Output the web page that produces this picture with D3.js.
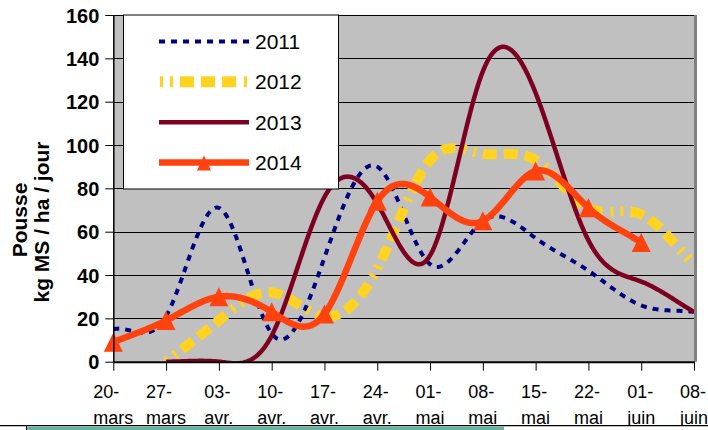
<!DOCTYPE html>
<html><head><meta charset="utf-8">
<script src="https://cdn.jsdelivr.net/npm/d3@7"></script>
<style>
html,body{margin:0;padding:0;background:#fff;}
svg{display:block;font-family:"Liberation Sans",Arial,sans-serif;}
</style></head>
<body><svg id="chart" width="708" height="430"></svg>
<script>
// ---- data ----
const categories = ["20-mars","27-mars","03-avr.","10-avr.","17-avr.","24-avr.","01-mai","08-mai","15-mai","22-mai","01-juin","08-juin"];
const seriesNames = ["2011","2012","2013","2014"];
const s2011 = [15, 21, 71, 13, 48, 90, 45, 65, 57, 42, 26, 23];
const s2012 = [null, 0, 19, 32, 21, 43, 93, 96, 93, 71, 68, 45];
const s2013 = [null, 0, 0, 12, 76, 73, 49, 134, 124, 56, 37, 23];
const s2014 = [9, 19, 30, 23, 22, 74, 76, 65, 88, 71, 55, null];
const yTicks = [0, 20, 40, 60, 80, 100, 120, 140, 160];
const yTitle = ["Pousse", "kg MS / ha / jour"];

// ---- styles ----
const styles = [
  {name:seriesNames[0], data:s2011, color:"#000080", width:4,   dash:"6,6", marker:false},
  {name:seriesNames[1], data:s2012, color:"#FFD320", width:10,  dash:"3,7,3,7,14,7,14,7,14,8", marker:false},
  {name:seriesNames[2], data:s2013, color:"#7E0021", width:4.5, dash:null, marker:false},
  {name:seriesNames[3], data:s2014, color:"#FF420E", width:6.5, dash:null, marker:true}
];

const svg = d3.select("#chart");
const L = 113.3, R = 694, T = 15, B = 361.7;
const x = d3.scalePoint().domain(d3.range(categories.length)).range([L, R]);
const xc = d3.scaleLinear().domain([0, categories.length - 1]).range([L, R]);
const y = d3.scaleLinear().domain([0, 160]).range([B, T]);

// cubic spline y(i) with end slopes clamped to the end chords (uniform spacing)
function splineSamples(pts, steps) {
  const n = pts.length - 1;
  if (n < 2) return pts;
  const v = pts.map(p => p[1]);
  const a = new Array(n + 1).fill(0), b = new Array(n + 1).fill(0), c = new Array(n + 1).fill(0), d = new Array(n + 1).fill(0);
  b[0] = 2; c[0] = 1; d[0] = 0;
  for (let i = 1; i < n; i++) { a[i] = 1; b[i] = 4; c[i] = 1; d[i] = 6 * (v[i+1] - 2 * v[i] + v[i-1]); }
  a[n] = 1; b[n] = 2; d[n] = 0;
  for (let i = 1; i <= n; i++) { const w = a[i] / b[i-1]; b[i] -= w * c[i-1]; d[i] -= w * d[i-1]; }
  const M = new Array(n + 1);
  M[n] = d[n] / b[n];
  for (let i = n - 1; i >= 0; i--) M[i] = (d[i] - c[i] * M[i+1]) / b[i];
  const out = [];
  for (let i = 0; i < n; i++) {
    for (let s = 0; s < steps; s++) {
      const tb = s / steps, ta = 1 - tb;
      const val = ta * v[i] + tb * v[i+1] + ((ta*ta*ta - ta) * M[i] + (tb*tb*tb - tb) * M[i+1]) / 6;
      out.push([pts[i][0] + tb * (pts[i+1][0] - pts[i][0]), val]);
    }
  }
  out.push(pts[n]);
  return out;
}

// plot background
svg.append("rect").attr("x", L).attr("y", T).attr("width", R - L).attr("height", B - T).attr("fill", "#C0C0C0");
svg.append("line").attr("x1", R + 1.5).attr("x2", R + 1.5).attr("y1", T).attr("y2", B)
  .attr("stroke", "#808080").attr("stroke-width", 3);

svg.append("g").selectAll("line").data(yTicks.filter(d => d > 0)).join("line")
  .attr("x1", L).attr("x2", R)
  .attr("y1", d => Math.round(y(d)) + 0.5).attr("y2", d => Math.round(y(d)) + 0.5)
  .attr("stroke", "#000").attr("stroke-width", 1);

svg.append("defs").append("clipPath").attr("id", "plotclip")
  .append("rect").attr("x", L).attr("y", T - 10).attr("width", R - L).attr("height", B - T + 10);

const line = d3.line().x(d => xc(d[0])).y(d => y(d[1])).curve(d3.curveLinear);

const gLines = svg.append("g").attr("clip-path", "url(#plotclip)");
styles.forEach(s => {
  const pts = s.data.map((v, i) => [i, v]).filter(p => p[1] != null);
  gLines.append("path").datum(splineSamples(pts, 40))
    .attr("d", line)
    .attr("fill", "none")
    .attr("stroke", s.color)
    .attr("stroke-width", s.width)
    .attr("stroke-dasharray", s.dash)
    .attr("stroke-linejoin", "round");
});

function tri(cx, cy, w, h) {
  return `M${cx},${cy - h/2}L${cx + w/2},${cy + h/2}L${cx - w/2},${cy + h/2}Z`;
}
styles.filter(s => s.marker).forEach(s => {
  svg.append("g").selectAll("path").data(s.data.map((v, i) => ({v, i})).filter(d => d.v != null)).join("path")
    .attr("d", d => tri(x(d.i), y(d.v), 19, 19))
    .attr("fill", s.color);
});

const yAxis = svg.append("g").attr("transform", `translate(${L},0)`)
  .call(d3.axisLeft(y).tickValues(yTicks).tickSize(8).tickPadding(6).tickSizeOuter(0));
yAxis.select(".domain").attr("stroke", "#000").attr("stroke-width", 1.5);
yAxis.selectAll(".tick line").attr("stroke", "#000").attr("stroke-width", 1);
yAxis.selectAll(".tick text").attr("font-family", "Liberation Sans, Arial, sans-serif")
  .attr("font-size", 20).attr("font-weight", "bold").attr("fill", "#000").attr("dy", "0.36em");

const xAxis = svg.append("g").attr("transform", `translate(0,${B})`)
  .call(d3.axisBottom(x).tickSize(9).tickFormat("").tickSizeOuter(0));
xAxis.select(".domain").attr("stroke", "#000").attr("stroke-width", 2);
xAxis.selectAll(".tick line").attr("stroke", "#000").attr("stroke-width", 1);

const xl = svg.append("g");
categories.forEach((c, i) => {
  const k = c.indexOf("-") + 1;
  const parts = [c.slice(0, k), c.slice(k)];
  const g = xl.append("g");
  const t1 = g.append("text").attr("y", 398).text(parts[0]);
  const t2 = g.append("text").attr("y", 424).text(parts[1]);
  g.selectAll("text").attr("font-size", 18).attr("fill", "#000");
  const w = Math.max(t1.node().getComputedTextLength(), t2.node().getComputedTextLength());
  g.selectAll("text").attr("x", x(i) - w / 2);
});

svg.append("text").attr("transform", "translate(27,220) rotate(-90)")
  .attr("text-anchor", "middle").attr("font-size", 21).attr("font-weight", "bold").text(yTitle[0]);
svg.append("text").attr("transform", "translate(49,222) rotate(-90)")
  .attr("text-anchor", "middle").attr("font-size", 21).attr("font-weight", "bold").text(yTitle[1]);

const lg = svg.append("g");
lg.append("rect").attr("x", 123.5).attr("y", 15).attr("width", 215).attr("height", 174)
  .attr("fill", "#fff").attr("stroke", "#000").attr("stroke-width", 1);
const rowY = [41.5, 81.7, 122.3, 162.5];
styles.forEach((s, i) => {
  const ly = rowY[i];
  lg.append("line").attr("x1", 159).attr("x2", 249).attr("y1", ly).attr("y2", ly)
    .attr("stroke", s.color).attr("stroke-width", s.width === 10 ? 11 : s.width)
    .attr("stroke-dasharray", s.dash).attr("stroke-dashoffset", s.dash && s.width === 10 ? -1 : 0);
  if (s.marker) lg.append("path").attr("d", tri(204, ly + 0.5, 14, 15)).attr("fill", s.color);
  lg.append("text").attr("x", 255).attr("y", ly + 7.5).attr("font-size", 21).attr("fill", "#000").text(s.name);
});

svg.append("rect").attr("x", 0).attr("y", 426).attr("width", 708).attr("height", 4).attr("fill", "#fff");
svg.append("line").attr("x1", 0).attr("x2", 708).attr("y1", 425.7).attr("y2", 425.7).attr("stroke", "#000").attr("stroke-width", 1.2);
svg.append("rect").attr("x", 27).attr("y", 426.5).attr("width", 477).attr("height", 3.5).attr("fill", "#67B3A2");
svg.append("line").attr("x1", 26.5).attr("x2", 26.5).attr("y1", 426).attr("y2", 430).attr("stroke", "#000");
</script></body></html>
